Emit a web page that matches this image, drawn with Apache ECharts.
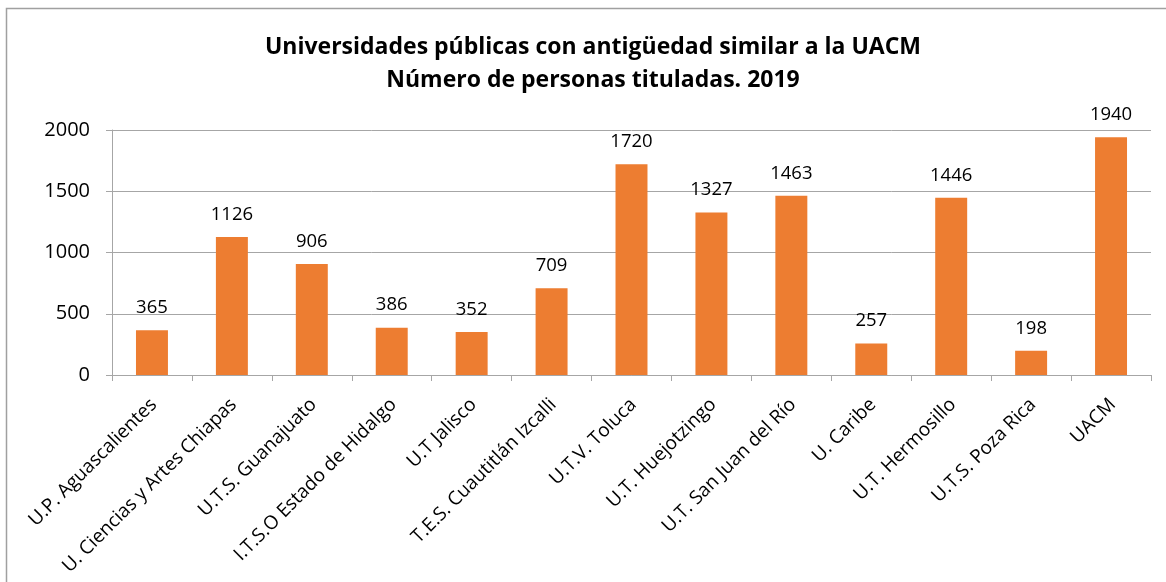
<!DOCTYPE html>
<html><head><meta charset="utf-8">
<script src="https://cdn.jsdelivr.net/npm/echarts@6/dist/echarts.min.js"></script>
<style>html,body{margin:0;padding:0;background:#fff}#c{width:1166px;height:582px}</style>
</head><body><div id="c"></div>
<script>
const categories = ["U.P. Aguascalientes","U. Ciencias y Artes Chiapas","U.T.S. Guanajuato","I.T.S.O Estado de Hidalgo","U.T Jalisco","T.E.S. Cuautitlán Izcalli","U.T.V. Toluca","U.T. Huejotzingo","U.T. San Juan del Río","U. Caribe","U.T. Hermosillo","U.T.S. Poza Rica","UACM"];
const values = [365,1126,906,386,352,709,1720,1327,1463,257,1446,198,1940];
const titleLines = ["Universidades públicas con antigüedad similar a la UACM","Número de personas tituladas. 2019"];
const font = "'Open Sans', 'Noto Sans', sans-serif";
const chart = echarts.init(document.getElementById('c'));
chart.setOption({
  animation:false,
  graphic:[
    {type:'rect',shape:{x:6.5,y:8.5,width:1200,height:700},style:{fill:null,stroke:'#a0a0a0',lineWidth:1.5},silent:true},
    {type:'text',x:593,y:47,style:{text:titleLines[0],font:"bold 23px 'Open Sans', sans-serif",fill:'#000',textAlign:'center',textVerticalAlign:'middle'}},
    {type:'text',x:593,y:80,style:{text:titleLines[1],font:"bold 23px 'Open Sans', sans-serif",fill:'#000',textAlign:'center',textVerticalAlign:'middle'}}
  ],
  grid:{left:112,right:15,top:130,bottom:207,containLabel:false},
  xAxis:{type:'category',data:categories,
    axisLine:{lineStyle:{color:'#a6a6a6',width:1}},
    axisTick:{show:true,alignWithLabel:false,length:6,lineStyle:{color:'#a6a6a6'}},
    axisLabel:{rotate:45,interval:0,fontFamily:font,fontSize:19,color:'#000',margin:15,verticalAlign:'top',align:'right',padding:[0,7,0,0]}},
  yAxis:{type:'value',min:0,max:2000,interval:500,
    axisLine:{show:true,lineStyle:{color:'#a6a6a6'}},
    axisTick:{show:true,length:6,lineStyle:{color:'#a6a6a6'}},
    splitLine:{lineStyle:{color:'#a6a6a6',width:1}},
    axisLabel:{fontFamily:font,fontSize:20,color:'#000',margin:22,formatter:v=>String(v)}},
  series:[{type:'bar',data:values,barWidth:'40%',itemStyle:{color:'#ED7D31'},
    label:{show:true,position:'top',distance:13,fontFamily:font,fontSize:18.5,color:'#000'}}]
});
</script></body></html>
